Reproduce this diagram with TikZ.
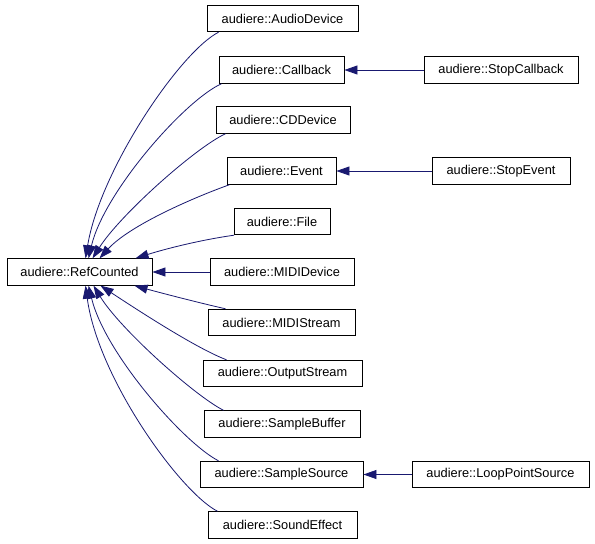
\documentclass[tikz,border=0pt]{standalone}
\usepackage{fontspec}
\setmainfont{Liberation Sans}
\usetikzlibrary{arrows.meta}
\definecolor{edgeblue}{RGB}{25,25,112}
\begin{document}
\begin{tikzpicture}[x=1pt,y=-1pt,
  cls/.style={draw=black,line width=0.9pt,fill=white,inner sep=0pt,minimum height=26.5pt,font=\fontsize{12.8}{14}\selectfont},
  inh/.style={draw=edgeblue,line width=0.8pt,-{Triangle[length=13pt,width=9pt]},color=edgeblue}]
\useasboundingbox (0,0) rectangle (595,544);
\fill[white] (0,0) rectangle (595,544);
\node[cls,minimum width=145pt] (rc) at (79.5,272) {audiere::RefCounted};
\node[cls,minimum width=151pt] (ad) at (282.5,18.5) {audiere::AudioDevice};
\node[cls,minimum width=125pt] (cb) at (281.5,70) {audiere::Callback};
\node[cls,minimum width=154pt] (scb) at (501,70) {audiere::StopCallback};
\node[cls,minimum width=134pt] (cd) at (283,120) {audiere::CDDevice};
\node[cls,minimum width=109pt] (ev) at (281.5,171) {audiere::Event};
\node[cls,minimum width=138pt] (sev) at (501,171) {audiere::StopEvent};
\node[cls,minimum width=96pt] (fi) at (282,221.5) {audiere::File};
\node[cls,minimum width=144pt] (md) at (282,272) {audiere::MIDIDevice};
\node[cls,minimum width=147pt] (ms) at (281.5,322.5) {audiere::MIDIStream};
\node[cls,minimum width=159pt] (os) at (282.5,373.5) {audiere::OutputStream};
\node[cls,minimum width=156pt] (sb) at (282,424) {audiere::SampleBuffer};
\node[cls,minimum width=163pt] (ss) at (281.5,474.5) {audiere::SampleSource};
\node[cls,minimum width=177pt] (lps) at (500.5,474.5) {audiere::LoopPointSource};
\node[cls,minimum width=149pt] (se) at (282.5,525) {audiere::SoundEffect};
% upper fan
\draw[inh] ([xshift=12pt]ad.south west) .. controls (180,52) and (100,170) .. ([xshift=79pt]rc.north west);
\draw[inh] ([xshift=3pt]cb.south west) .. controls (185,100) and (104,192) .. ([xshift=82pt]rc.north west);
\draw[inh] ([xshift=10pt]cd.south west) .. controls (195,148) and (120,215) .. ([xshift=86pt]rc.north west);
\draw[inh] ([xshift=3pt]ev.south west) .. controls (195,197) and (130,225) .. ([xshift=93pt]rc.north west);
\draw[inh] ([xshift=0.5pt]fi.south west) .. controls (200,240) and (165,249) .. ([xshift=129pt]rc.north west);
% middle
\draw[inh] (md.west) -- (rc.east);
% lower fan
\draw[inh] ([xshift=18pt]ms.north west) .. controls (200,303) and (165,294) .. ([xshift=128pt]rc.south west);
\draw[inh] ([xshift=24pt]os.north west) .. controls (195,348) and (130,305) .. ([xshift=94pt]rc.south west);
\draw[inh] ([xshift=20pt]sb.north west) .. controls (195,396) and (120,329) .. ([xshift=87pt]rc.south west);
\draw[inh] ([xshift=19pt]ss.north west) .. controls (185,444) and (105,354) .. ([xshift=82pt]rc.south west);
\draw[inh] ([xshift=10pt]se.north west) .. controls (180,492) and (98,378) .. ([xshift=79pt]rc.south west);
% horizontal
\draw[inh] (scb.west) -- (cb.east);
\draw[inh] (sev.west) -- (ev.east);
\draw[inh] (lps.west) -- (ss.east);
\end{tikzpicture}
\end{document}
